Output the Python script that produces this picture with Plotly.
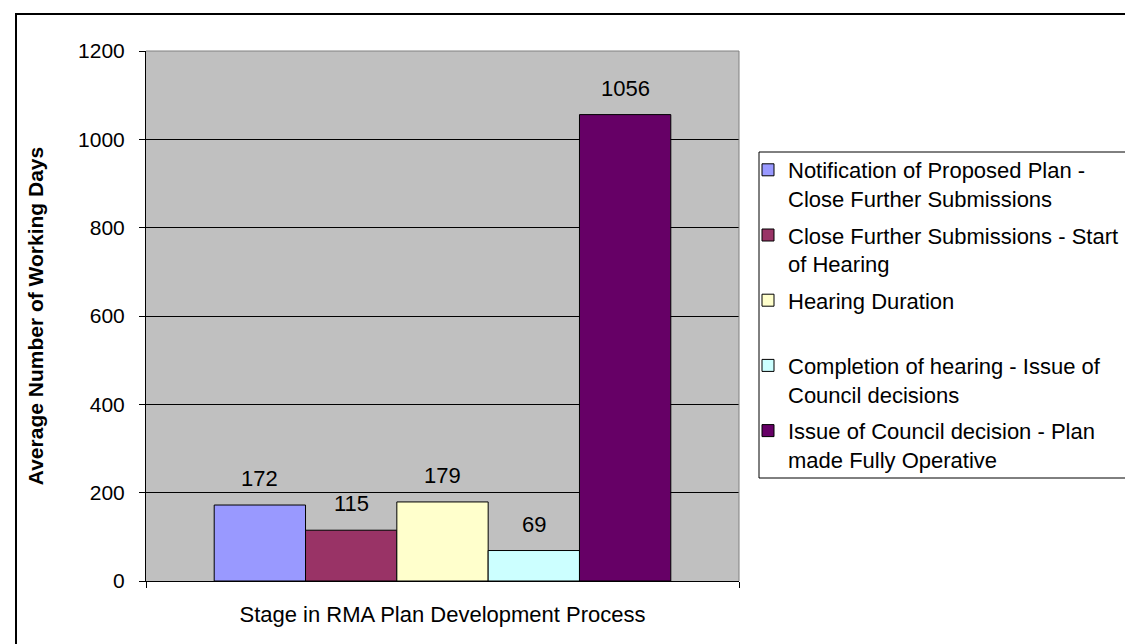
import plotly.graph_objects as go

# ---- data -------------------------------------------------------------
category = ["Stage in RMA Plan Development Process"]
stages = [
    "Notification of Proposed Plan -<br>Close Further Submissions",
    "Close Further Submissions - Start<br>of Hearing",
    "Hearing Duration<br> ",
    "Completion of hearing - Issue of<br>Council decisions",
    "Issue of Council decision - Plan<br>made Fully Operative",
]
days = [172, 115, 179, 69, 1056]
y_ticks = [0, 200, 400, 600, 800, 1000, 1200]

_COLORS = ["#9999FF", "#993366", "#FFFFCC", "#CCFFFF", "#660066"]
FONT = "Arial, Liberation Sans, sans-serif"
FS = 22

W, H = 1133, 644
L, R, T, B = 138, 1133 - 731, 43, 644 - 573
BARGAP = 0.23

fig = go.Figure()
for k, (name, v) in enumerate(zip(stages, days)):
    fig.add_trace(go.Bar(
        x=category, y=[v], name=name, legendgroup=f"g{k}",
        marker=dict(color=_COLORS[k], line=dict(color="#000000", width=1)),
        hoverinfo="name+y",
    ))

# value labels sit a bit above each bar, like the spreadsheet export
plot_w = W - L - R
bar_px = plot_w * (1 - BARGAP) / len(days)
for k, v in enumerate(days):
    fig.add_annotation(
        x=category[0], y=v, text=str(v), showarrow=False,
        yanchor="bottom", yshift=12,
        xshift=(k - (len(days) - 1) / 2) * bar_px,
        font=dict(family=FONT, size=FS, color="#000"),
    )

px_x = lambda p: (p - L) / plot_w
px_y = lambda p: (H - B - p) / (H - T - B)

# outer chart border (right/bottom run off the crop)
fig.add_shape(type="rect", xref="paper", yref="paper",
              x0=px_x(8), x1=px_x(1145), y0=px_y(655), y1=px_y(6),
              line=dict(color="#000", width=2), fillcolor="rgba(0,0,0,0)",
              layer="above")
# plot-area frame: grey on top and right
fig.add_shape(type="line", xref="paper", yref="paper", x0=0, x1=1, y0=1, y1=1,
              line=dict(color="#808080", width=1))
fig.add_shape(type="line", xref="paper", yref="paper", x0=1, x1=1, y0=0, y1=1,
              line=dict(color="#808080", width=1))
# legend frame
fig.add_shape(type="rect", xref="paper", yref="paper",
              x0=px_x(751), x1=px_x(1131), y0=px_y(470), y1=px_y(144),
              line=dict(color="#000", width=1), fillcolor="rgba(0,0,0,0)")

fig.update_layout(
    width=W, height=H,
    margin=dict(l=L, r=R, t=T, b=B, autoexpand=False),
    paper_bgcolor="#FFFFFF", plot_bgcolor="#C0C0C0",
    barmode="group", bargap=BARGAP, bargroupgap=0,
    font=dict(family=FONT, size=FS, color="#000"),
    showlegend=True,
    legend=dict(
        x=px_x(740), y=px_y(141), xanchor="left", yanchor="top",
        bgcolor="rgba(0,0,0,0)", borderwidth=0,
        font=dict(family=FONT, size=FS, color="#000"),
        valign="top", tracegroupgap=5,
    ),
    xaxis=dict(
        showline=True, linecolor="#000", linewidth=1,
        ticks="outside", tickson="boundaries", ticklen=6, tickcolor="#000",
        ticklabelstandoff=14, showgrid=False, fixedrange=True,
    ),
    yaxis=dict(
        range=[0, 1200], tickvals=y_ticks, showline=True, linecolor="#000",
        linewidth=1, ticks="outside", ticklen=6, tickcolor="#000",
        ticklabelstandoff=10, tickfont=dict(size=21),
        showgrid=True, gridcolor="#000000", gridwidth=1, zeroline=False,
        title=dict(text="<b>Average Number of Working Days</b>", standoff=28,
                   font=dict(family=FONT, size=21)),
    ),
)

fig.write_html("out.html")
